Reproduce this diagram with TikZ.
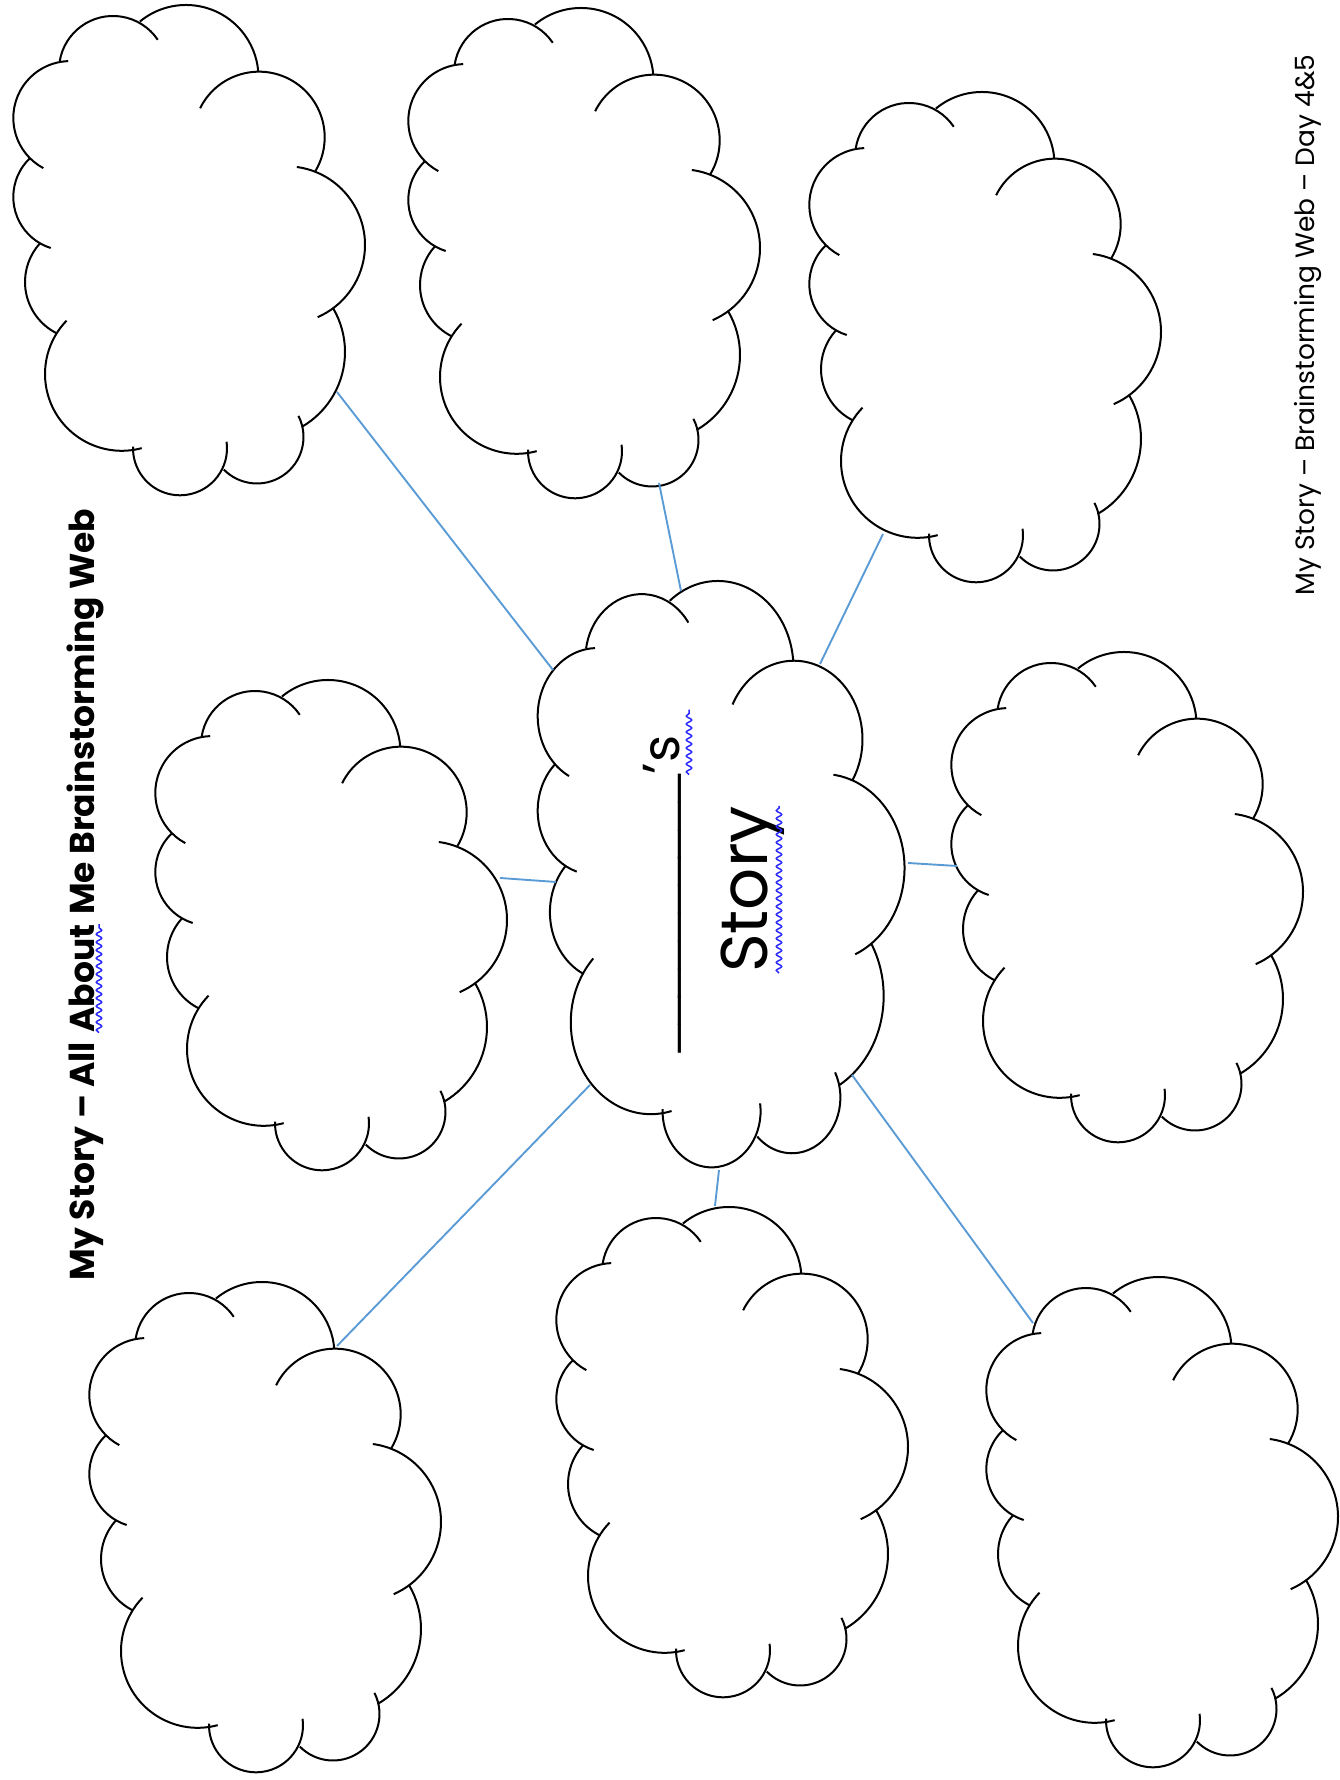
\documentclass[tikz,border=0pt]{standalone}
\usepackage{fontspec}
\setmainfont{Poppins}
\newfontfamily\blankfont{Liberation Sans}
\usetikzlibrary{positioning,decorations.pathmorphing}

\definecolor{spokeblue}{HTML}{5B9BD5}
\definecolor{checkblue}{RGB}{40,40,255}

\tikzset{
  cloudline/.style={line width=2pt},
  spoke/.style={spokeblue, line width=1.9pt},
  squiggle/.style={checkblue, line width=1.5pt, decorate,
    decoration={snake, amplitude=2.7pt, segment length=8pt}},
  upright/.style={rotate=90, anchor=base west, inner sep=0pt},
  pics/bubble/.style={code={
    \coordinate (-c) at (0,0);
    \draw[cloudline] (-77,180)    ++(171:54)     arc[start angle=171,   end angle=34,    radius=54];
    \draw[cloudline] (-4,172.5)   ++(129.5:72.5) arc[start angle=129.5, end angle=4.6,   radius=72.5];
    \draw[cloudline] (69,112.6)   ++(153.7:65.7) arc[start angle=153.7, end angle=-31.5, radius=65.7];
    \draw[cloudline] (96.3,5)     ++(82.3:78.7)  arc[start angle=82.3,  end angle=-66.5, radius=78.7];
    \draw[cloudline] (68.5,-102)  ++(30.3:86.5)  arc[start angle=30.3,  end angle=-59.9, radius=86.5];
    \draw[cloudline] (67,-187)    ++(27:46.5)    arc[start angle=27,    end angle=-135.5,radius=46.5];
    \draw[cloudline] (-10,-198.3) ++(8:47)       arc[start angle=8,     end angle=-182,  radius=47];
    \draw[cloudline] (-68.2,-124) ++(-75:76.8)   arc[start angle=-75,   end angle=-224,  radius=76.8];
    \draw[cloudline] (-107.6,-32) ++(243.4:57.4) arc[start angle=243.4, end angle=137.6, radius=57.4];
    \draw[cloudline] (-123.2,53)  ++(252.5:53.5) arc[start angle=252.5, end angle=133.6, radius=53.5];
    \draw[cloudline] (-119.8,132) ++(241.8:56.9) arc[start angle=241.8, end angle=92,    radius=56.9];
  }}
}

\begin{document}
\begin{tikzpicture}[x=1pt,y=1pt]
\useasboundingbox (0,0) rectangle (1340,1780);
% clouds
\pic (tl) at (190,1530) {bubble};
\pic (tm) at (585,1527) {bubble};
\pic (tr) at (986,1443) {bubble};
\pic (ml) at (332,855) {bubble};
\pic[xscale=1.043, yscale=1.196] (mid) at (722,906) {bubble};
\pic (mr) at (1128,883) {bubble};
\pic (bl) at (266,253) {bubble};
\pic (bm) at (733,328) {bubble};
\pic (br) at (1163,258) {bubble};
% spoke ends
\coordinate (tl-s) at (337,1388);  \coordinate (mid-a) at (553,1110);
\coordinate (tm-s) at (659,1297);  \coordinate (mid-b) at (681,1189);
\coordinate (tr-s) at (883,1246);  \coordinate (mid-c) at (820,1116);
\coordinate (ml-e) at (500,902);   \coordinate (mid-d) at (556,898);
\coordinate (mr-w) at (957,914);   \coordinate (mid-e) at (908,917);
\coordinate (bl-n) at (337,434);   \coordinate (mid-f) at (590,695);
\coordinate (bm-n) at (715,574);   \coordinate (mid-g) at (719,610);
\coordinate (br-n) at (1033,457);  \coordinate (mid-h) at (852,705);
\draw[spoke] (tl-s) -- (mid-a);  \draw[spoke] (tm-s) -- (mid-b);
\draw[spoke] (tr-s) -- (mid-c);  \draw[spoke] (ml-e) -- (mid-d);
\draw[spoke] (mr-w) -- (mid-e);  \draw[spoke] (bl-n) -- (mid-f);
\draw[spoke] (bm-n) -- (mid-g);  \draw[spoke] (br-n) -- (mid-h);
% title
\node[upright, font=\fontsize{34.5}{40}\selectfont\bfseries] (t1) at (94,499) {My Story – All};
\node[upright, font=\fontsize{34.5}{40}\selectfont\bfseries] (t2) at ([yshift=9]t1.base east) {About};
\node[upright, font=\fontsize{34.5}{40}\selectfont\bfseries] (t3) at ([yshift=9]t2.base east) {Me Brainstorming Web};
\draw[squiggle] ([xshift=5]t2.base west) -- ([xshift=5]t2.base east);
% centre words
\node[upright, font=\fontsize{50}{60}\selectfont\blankfont] (blank) at (671,727) {\_\_\_\_\_\_\_\_\_\_};
\node[upright, font=\fontsize{52}{60}\selectfont] (poss) at ([xshift=8]blank.base east) {'s};
\draw[squiggle] ([xshift=10]poss.base west) -- ([xshift=10,yshift=26]poss.base east);
\node[upright, font=\fontsize{66}{70}\selectfont] (story) at (767,807) {Story};
\draw[squiggle] ([xshift=12]story.base west) -- ([xshift=12]story.base east);
% footer
\node[upright, font=\fontsize{26.5}{30}\selectfont] (foot) at (1314,1184) {My Story – Brainstorming Web – Day 4\&5};
\end{tikzpicture}
\end{document}
